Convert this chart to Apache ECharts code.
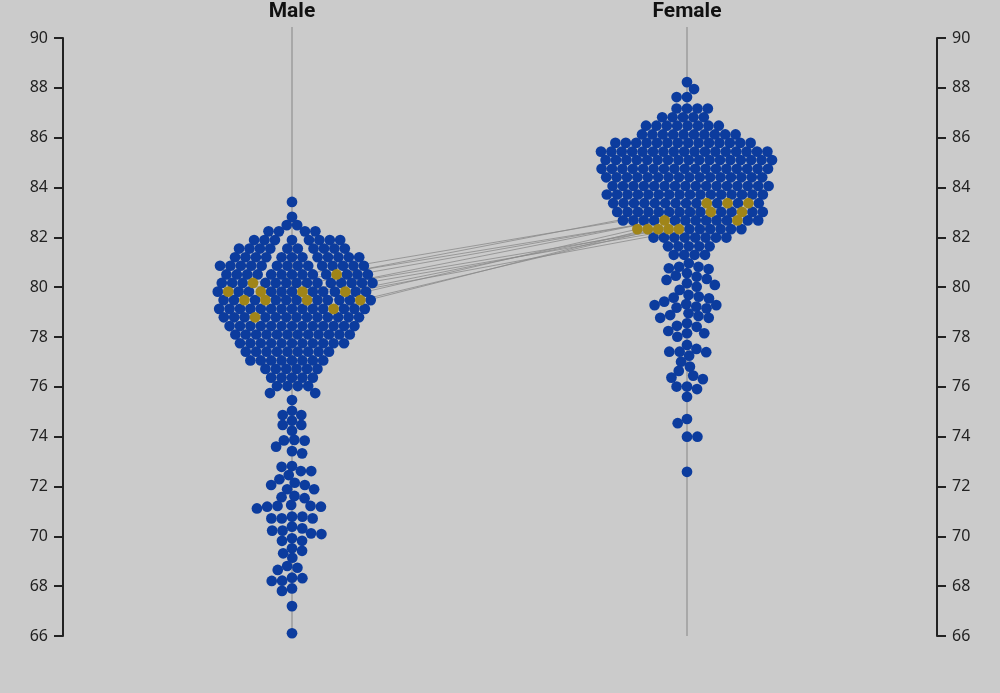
<!DOCTYPE html>
<html>
<head>
<meta charset="utf-8">
<script src="https://cdn.jsdelivr.net/npm/echarts@6/dist/echarts.min.js"></script>
<style>
html,body{margin:0;padding:0;background:#cbcbcb;}
#chart{width:1000px;height:693px;}
</style>
</head>
<body>
<div id="chart"></div>
<script>
// ---------------- data ----------------
const categories = ['Male', 'Female'];
const yMin = 66, yMax = 90, yStep = 2;

const maleValues = [
  83.42,
  82.82,
  82.49, 82.49,
  82.24, 82.24, 82.24, 82.24,
  81.89, 81.89, 81.89, 81.89, 81.89, 81.89, 81.89, 81.89,
  81.55, 81.55, 81.55, 81.55, 81.55, 81.55, 81.55, 81.55, 81.55, 81.55,
  81.20, 81.20, 81.20, 81.20, 81.20, 81.20, 81.20, 81.20, 81.20, 81.20, 81.20, 81.20,
  80.86, 80.86, 80.86, 80.86, 80.86, 80.86, 80.86, 80.86, 80.86, 80.86, 80.86, 80.86, 80.86, 80.86,
  80.51, 80.51, 80.51, 80.51, 80.51, 80.51, 80.51, 80.51, 80.51, 80.51, 80.51, 80.51, 80.51,
  80.17, 80.17, 80.17, 80.17, 80.17, 80.17, 80.17, 80.17, 80.17, 80.17, 80.17, 80.17, 80.17, 80.17,
  79.82, 79.82, 79.82, 79.82, 79.82, 79.82, 79.82, 79.82, 79.82, 79.82, 79.82,
  79.48, 79.48, 79.48, 79.48, 79.48, 79.48, 79.48, 79.48, 79.48, 79.48, 79.48,
  79.13, 79.13, 79.13, 79.13, 79.13, 79.13, 79.13, 79.13, 79.13, 79.13, 79.13, 79.13, 79.13, 79.13,
  78.79, 78.79, 78.79, 78.79, 78.79, 78.79, 78.79, 78.79, 78.79, 78.79, 78.79, 78.79, 78.79,
  78.44, 78.44, 78.44, 78.44, 78.44, 78.44, 78.44, 78.44, 78.44, 78.44, 78.44, 78.44, 78.44,
  78.10, 78.10, 78.10, 78.10, 78.10, 78.10, 78.10, 78.10, 78.10, 78.10, 78.10, 78.10,
  77.75, 77.75, 77.75, 77.75, 77.75, 77.75, 77.75, 77.75, 77.75, 77.75, 77.75,
  77.41, 77.41, 77.41, 77.41, 77.41, 77.41, 77.41, 77.41, 77.41,
  77.06, 77.06, 77.06, 77.06, 77.06, 77.06, 77.06, 77.06,
  76.72, 76.72, 76.72, 76.72, 76.72, 76.72,
  76.37, 76.37, 76.37, 76.37, 76.37,
  76.03, 76.03, 76.03, 76.03,
  75.75, 75.75,
  75.47,
  75.04, 74.87, 74.87, 74.64, 74.47, 74.47, 74.24,
  73.87, 73.85, 73.84, 73.60, 73.42, 73.33,
  72.82, 72.79, 72.62, 72.62, 72.46, 72.29,
  72.15, 72.06, 72.06, 71.89, 71.89,
  71.62, 71.57, 71.53,
  71.26, 71.22, 71.22, 71.19, 71.19, 71.12,
  70.79, 70.79, 70.72, 70.72, 70.72, 70.39,
  70.32, 70.23, 70.23, 70.12, 70.09,
  69.92, 69.82, 69.82,
  69.52, 69.42, 69.32,
  69.14,
  68.81, 68.74, 68.65,
  68.34, 68.32, 68.22, 68.21,
  67.91, 67.81,
  67.20,
  66.11
];

const femaleValues = [
  88.23,
  87.95,
  87.63, 87.63,
  87.17, 87.17, 87.17, 87.17,
  86.82, 86.82, 86.82, 86.82, 86.82,
  86.48, 86.48, 86.48, 86.48, 86.48, 86.48, 86.48, 86.48,
  86.13, 86.13, 86.13, 86.13, 86.13, 86.13, 86.13, 86.13, 86.13, 86.13,
  85.79, 85.79, 85.79, 85.79, 85.79, 85.79, 85.79, 85.79, 85.79, 85.79, 85.79, 85.79, 85.79, 85.79,
  85.44, 85.44, 85.44, 85.44, 85.44, 85.44, 85.44, 85.44, 85.44, 85.44, 85.44, 85.44, 85.44, 85.44, 85.44, 85.44, 85.44,
  85.10, 85.10, 85.10, 85.10, 85.10, 85.10, 85.10, 85.10, 85.10, 85.10, 85.10, 85.10, 85.10, 85.10, 85.10, 85.10, 85.10,
  84.75, 84.75, 84.75, 84.75, 84.75, 84.75, 84.75, 84.75, 84.75, 84.75, 84.75, 84.75, 84.75, 84.75, 84.75, 84.75, 84.75,
  84.41, 84.41, 84.41, 84.41, 84.41, 84.41, 84.41, 84.41, 84.41, 84.41, 84.41, 84.41, 84.41, 84.41, 84.41, 84.41,
  84.06, 84.06, 84.06, 84.06, 84.06, 84.06, 84.06, 84.06, 84.06, 84.06, 84.06, 84.06, 84.06, 84.06, 84.06, 84.06,
  83.72, 83.72, 83.72, 83.72, 83.72, 83.72, 83.72, 83.72, 83.72, 83.72, 83.72, 83.72, 83.72, 83.72, 83.72, 83.72,
  83.37, 83.37, 83.37, 83.37, 83.37, 83.37, 83.37, 83.37, 83.37, 83.37, 83.37, 83.37,
  83.02, 83.02, 83.02, 83.02, 83.02, 83.02, 83.02, 83.02, 83.02, 83.02, 83.02, 83.02, 83.02,
  82.68, 82.68, 82.68, 82.68, 82.68, 82.68, 82.68, 82.68, 82.68, 82.68, 82.68, 82.68,
  82.33, 82.33, 82.33, 82.33, 82.33, 82.33,
  81.99, 81.99, 81.99, 81.99, 81.99, 81.99, 81.99, 81.99,
  81.64, 81.64, 81.64, 81.64, 81.64,
  81.30, 81.30, 81.30, 81.30,
  80.96, 80.82, 80.82, 80.76, 80.73,
  80.56, 80.46, 80.42, 80.33, 80.29,
  80.16, 80.09, 80.02, 79.89,
  79.69, 79.62, 79.58, 79.55, 79.42,
  79.32, 79.28, 79.28, 79.22, 79.18, 79.15,
  78.95, 78.88, 78.84, 78.77, 78.77,
  78.55, 78.45, 78.41, 78.24, 78.15, 78.15, 78.01,
  77.68,
  77.52, 77.41, 77.41, 77.39, 77.25,
  77.01, 76.81,
  76.64, 76.45, 76.37, 76.31,
  76.01, 76.01, 75.91,
  75.60,
  74.71, 74.54,
  74.00, 74.00,
  72.59
];

// highlighted entries, paired by index (male value -> female value)
const maleHighlight   = [80.51, 80.17, 79.82, 79.82, 79.82, 79.82, 79.48, 79.48, 79.48, 79.48, 79.13, 78.79];
const femaleHighlight = [83.37, 83.37, 83.37, 83.02, 83.02, 82.68, 82.68, 82.33, 82.33, 82.33, 82.33, 82.33];

// ---------------- layout ----------------
const W = 1000, H = 693;
const GRID = { left: 63, right: 63, top: 38, bottom: 57 };
const PLOT_W = W - GRID.left - GRID.right;
const PLOT_H = H - GRID.top - GRID.bottom;
const PX_PER_UNIT = PLOT_H / (yMax - yMin);
const CENTERS = [229, 624];          // x of each column inside the plot (px)
const D = 10.4;                      // collision distance (px)
const K_Y = 1.1;                     // vertical weight in collision test
const DOT = 10.7;                    // dot diameter (px)

function swarm(others, highlights, center) {
  const key = v => v.toFixed(2);
  const nO = {}, nH = {};
  others.forEach(v => { nO[key(v)] = (nO[key(v)] || 0) + 1; });
  highlights.forEach(v => { nH[key(v)] = (nH[key(v)] || 0) + 1; });
  const items = [];
  const sO = {}, sH = {};
  others.forEach(v => {
    const k = key(v); const i = sO[k] || 0; sO[k] = i + 1;
    items.push({ v: v, hl: -1, ord: i });
  });
  highlights.forEach((v, idx) => {
    const k = key(v); const j = sH[k] || 0; sH[k] = j + 1;
    const n = nO[k] || 0, h = nH[k];
    items.push({ v: v, hl: idx, ord: (j + 1) * n / (h + 1) - 0.5 });
  });
  items.sort((a, b) => (b.v - a.v) || (a.ord - b.ord));
  const placed = [];
  let side = 1;
  items.forEach(it => {
    const y = (it.v - yMin) * PX_PER_UNIT;
    const near = placed.filter(p => Math.abs(p.y - y) * K_Y < D);
    const cands = [0];
    near.forEach(p => {
      const dy = (p.y - y) * K_Y;
      const hh = Math.sqrt(D * D - dy * dy);
      cands.push(p.x + hh, p.x - hh);
    });
    const ok = c => near.every(p => {
      const dx = p.x - c, dy = (p.y - y) * K_Y;
      return dx * dx + dy * dy >= D * D - 0.01;
    });
    const valid = cands.filter(ok);
    const minAbs = Math.min.apply(null, valid.map(Math.abs));
    const best = valid.filter(c => Math.abs(c) - minAbs < 0.05);
    const pos = best.filter(c => c > 0.01), neg = best.filter(c => c < -0.01);
    let x;
    if (pos.length && neg.length) { x = side > 0 ? pos[0] : neg[0]; side = -side; }
    else x = best[0];
    it.x = x; it.y = y;
    placed.push(it);
  });
  const blue = [], gold = [];
  placed.forEach(it => {
    const pt = [center + it.x, it.v];
    if (it.hl < 0) blue.push(pt); else gold[it.hl] = pt;
  });
  return { blue: blue, gold: gold };
}

const maleSwarm = swarm(maleValues, maleHighlight, CENTERS[0]);
const femaleSwarm = swarm(femaleValues, femaleHighlight, CENTERS[1]);

const links = maleSwarm.gold.map((p, i) => ({ coords: [p, femaleSwarm.gold[i]] }));
const topY = yMax + 11 / PX_PER_UNIT;

const BLUE = '#0c3c9e';
const GOLD = '#a08519';

// blue dots first, highlighted dots last so they are drawn on top
const dotData = maleSwarm.blue.concat(femaleSwarm.blue)
  .concat(maleSwarm.gold.concat(femaleSwarm.gold).map(p => ({ value: p, itemStyle: { color: GOLD } })));

function yAxisDef(pos) {
  return {
    type: 'value', position: pos, min: yMin, max: yMax, interval: yStep,
    axisLine: { show: true, lineStyle: { color: '#222', width: 2 } },
    axisTick: { show: true, length: 9, lineStyle: { color: '#222', width: 2 } },
    axisLabel: { color: '#222', fontSize: 16, margin: 15, fontFamily: 'Noto Sans' },
    splitLine: { show: false }
  };
}

const chart = echarts.init(document.getElementById('chart'), null, { renderer: 'canvas' });
chart.setOption({
  backgroundColor: '#cbcbcb',
  animation: false,
  grid: { left: GRID.left, right: GRID.right, top: GRID.top, bottom: GRID.bottom },
  xAxis: { type: 'value', min: 0, max: PLOT_W, show: false },
  yAxis: [yAxisDef('left'), yAxisDef('right')],
  graphic: categories.map((c, i) => ({
    type: 'text',
    x: GRID.left + CENTERS[i],
    y: 12,
    style: {
      text: c, fill: '#111', fontSize: 21, fontWeight: 'bold', fontFamily: 'Roboto',
      textAlign: 'center', textVerticalAlign: 'middle'
    }
  })),
  series: [
    ...CENTERS.map(cx => ({
      type: 'line', silent: true, clip: false, symbol: 'none', z: 1,
      data: [[cx, yMin], [cx, topY]],
      lineStyle: { color: '#9c9c9c', width: 1.5 }
    })),
    {
      type: 'lines', coordinateSystem: 'cartesian2d', xAxisIndex: 0, yAxisIndex: 0,
      silent: true, z: 2, data: links,
      lineStyle: { color: '#8a8a8a', width: 0.8, opacity: 1, curveness: 0 }
    },
    {
      type: 'scatter', z: 3, symbol: 'circle', symbolSize: DOT, large: false, progressive: 0,
      data: dotData,
      itemStyle: { color: BLUE, opacity: 1, borderWidth: 0 }
    }
  ]
});
</script>
</body>
</html>
